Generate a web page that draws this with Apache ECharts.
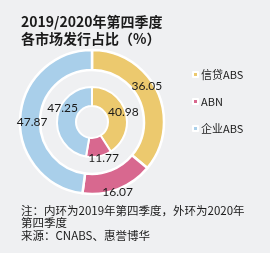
<!DOCTYPE html>
<html lang="zh">
<head>
<meta charset="utf-8">
<title>2019/2020年第四季度各市场发行占比</title>
<style>
  html, body { margin: 0; padding: 0; background: #eff0f2; }
  #main { width: 270px; height: 253px; }
</style>
</head>
<body>
<div id="main"></div>
<script src="https://cdn.jsdelivr.net/npm/echarts@6/dist/echarts.min.js"></script>
<script>
var categories = ['信贷ABS', 'ABN', '企业ABS']
var values2019 = [40.98, 11.77, 47.25]   // inner ring
var values2020 = [36.05, 16.07, 47.87]   // outer ring
var colors = ['#ecc96e', '#d8688f', '#a9cfea']

// label nudges (px), inner then outer
var innerOffsets = [[4, -2], [6, 8], [-1, -11]]
var outerOffsets = [[-4, -8], [2, 10], [5, 4]]

var buildData = (vals, offs) => {
    var l = []
    for (var i = 0; i < vals.length; i++) {
        l.push({
            name: categories[i],
            value: vals[i],
            itemStyle: { color: colors[i] },
            label: { offset: offs[i] }
        })
    }
    return l
}

var ringLabel = {
    show: true,
    position: 'inside',
    formatter: '{c}',
    color: '#1a1a1a',
    fontFamily: 'Lato',
    fontSize: 12
}

var chart = echarts.init(document.getElementById('main'))
var option = {
    backgroundColor: '#eff0f2',
    animation: false,
    title: [
        {
            text: '2019/2020年第四季度\n各市场发行占比（%）',
            left: 16,
            top: 8,
            textStyle: {
                fontFamily: 'Noto Sans CJK SC',
                fontSize: 14,
                fontWeight: 'bold',
                color: '#1a1a1a',
                lineHeight: 17
            }
        },
        {
            text: '注：内环为2019年第四季度，外环为2020年\n第四季度\n来源：CNABS、惠誉博华',
            left: 16,
            top: 199,
            textStyle: {
                fontFamily: 'Noto Sans CJK SC',
                fontSize: 11.5,
                fontWeight: 'normal',
                color: '#1a1a1a',
                lineHeight: 12.5
            }
        }
    ],
    legend: {
        orient: 'vertical',
        left: 187,
        top: 64,
        itemWidth: 5,
        itemHeight: 5,
        itemGap: 16,
        icon: 'rect',
        data: categories,
        textStyle: {
            fontFamily: 'Noto Sans CJK SC',
            fontSize: 11,
            color: '#1a1a1a',
            padding: [0, 0, 0, -2]
        }
    },
    series: [
        {
            type: 'pie',
            center: [92, 122],
            radius: [16, 35],
            startAngle: 90,
            clockwise: true,
            silent: true,
            itemStyle: { borderColor: '#ffffff', borderWidth: 2 },
            label: ringLabel,
            labelLine: { show: false },
            data: buildData(values2019, innerOffsets)
        },
        {
            type: 'pie',
            center: [92, 122],
            radius: [52, 72],
            startAngle: 90,
            clockwise: true,
            silent: true,
            itemStyle: { borderColor: '#ffffff', borderWidth: 2.5 },
            label: ringLabel,
            labelLine: { show: false },
            data: buildData(values2020, outerOffsets)
        }
    ]
}
chart.setOption(option)
</script>
</body>
</html>
